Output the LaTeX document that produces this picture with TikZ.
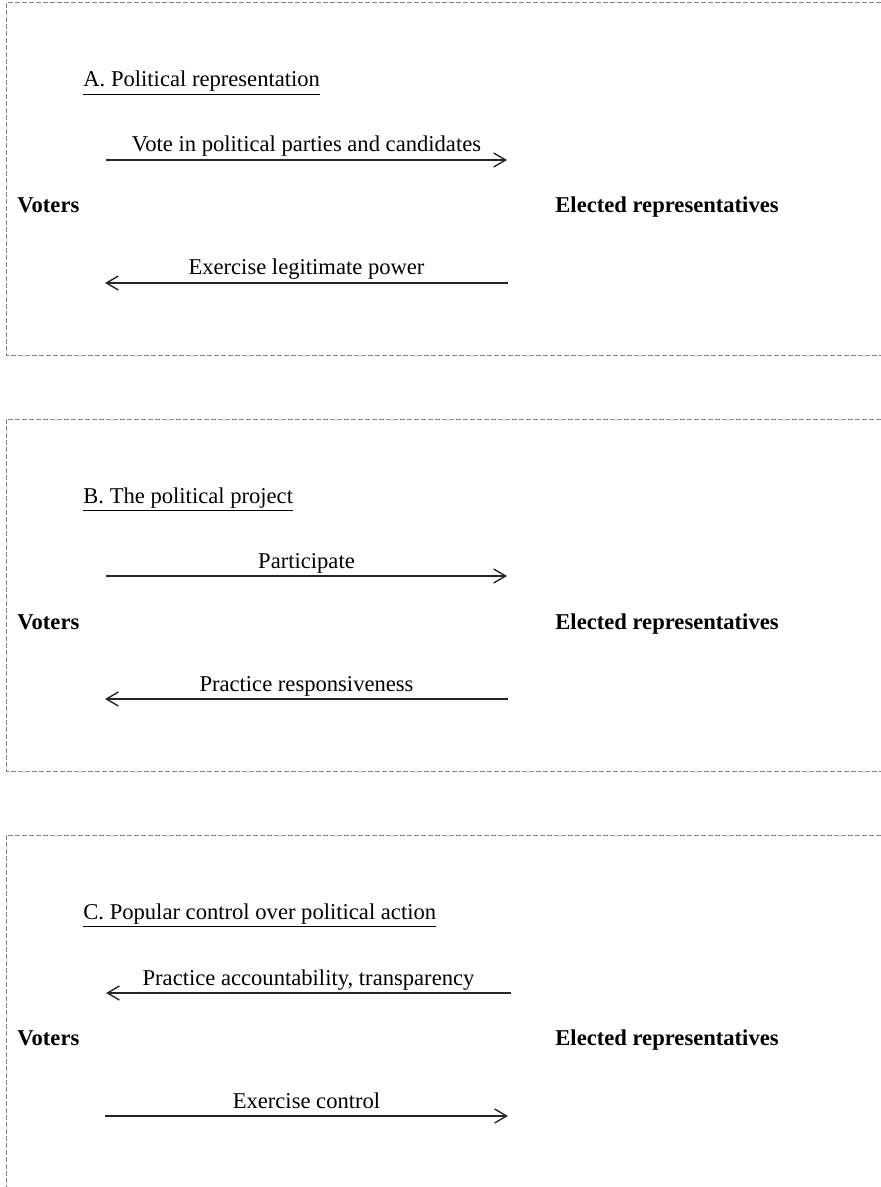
\documentclass[tikz,border=0pt]{standalone}
\usepackage{fontspec}
\setmainfont{Liberation Serif}
\usetikzlibrary{arrows.meta}
\tikzset{%
	frame/.style={draw=black!50, line width=0.5pt, dash pattern=on 2.5pt off 1pt},
	flow/.style={draw=black!85, line width=0.7pt, -{Straight Barb[length=6pt,width=7pt]}}
}

\begin{document}
\begin{tikzpicture}[x=0.5pt, y=-0.5pt,
		every node/.style={font=\fontsize{11.3}{13}\selectfont},
		head/.style={anchor=base west, inner sep=0pt},
		actor/.style={anchor=base west, inner sep=0pt, font=\fontsize{11.3}{13}\selectfont\bfseries},
		lab/.style={anchor=base, yshift=4pt, inner sep=0pt}]
	\useasboundingbox (0,0) rectangle (881,1187);
	% frames
	\draw [frame] (881,3) -| (6,355) -- (881,355);
	\draw [frame] (881,419) -| (6,771) -- (881,771);
	\draw [frame] (881,835) -| (6,1187);
	% A
	\node [head] (TA) at (83,87) {\underline{A. Political representation}};
	\node [actor] (V1) at (17,213) {Voters};
	\node [actor] (R1) at (555,213) {Elected representatives};
	\coordinate (P1) at (106,160);
	\coordinate (Q1) at (507,160);
	\coordinate (P2) at (105,283);
	\coordinate (Q2) at (508,283);
	\draw [flow] (P1) -- node [lab] {Vote in political parties and candidates} (Q1);
	\draw [flow] (Q2) -- node [lab] {Exercise legitimate power} (P2);
	% B
	\node [head] (TB) at (83,503) {\underline{B. The political project}};
	\node [actor] (V2) at (17,629) {Voters};
	\node [actor] (R2) at (555,629) {Elected representatives};
	\coordinate (P3) at (106,576);
	\coordinate (Q3) at (507,576);
	\coordinate (P4) at (105,699);
	\coordinate (Q4) at (508,699);
	\draw [flow] (P3) -- node [lab] {Participate} (Q3);
	\draw [flow] (Q4) -- node [lab] {Practice responsiveness} (P4);
	% C
	\node [head] (TC) at (83,919) {\underline{C. Popular control over political action}};
	\node [actor] (V3) at (17,1045) {Voters};
	\node [actor] (R3) at (555,1045) {Elected representatives};
	\coordinate (P5) at (106,993);
	\coordinate (Q5) at (511,993);
	\coordinate (P6) at (105,1116);
	\coordinate (Q6) at (508,1116);
	\draw [flow] (Q5) -- node [lab] {Practice accountability, transparency} (P5);
	\draw [flow] (P6) -- node [lab] {Exercise control} (Q6);
\end{tikzpicture}
\end{document}
